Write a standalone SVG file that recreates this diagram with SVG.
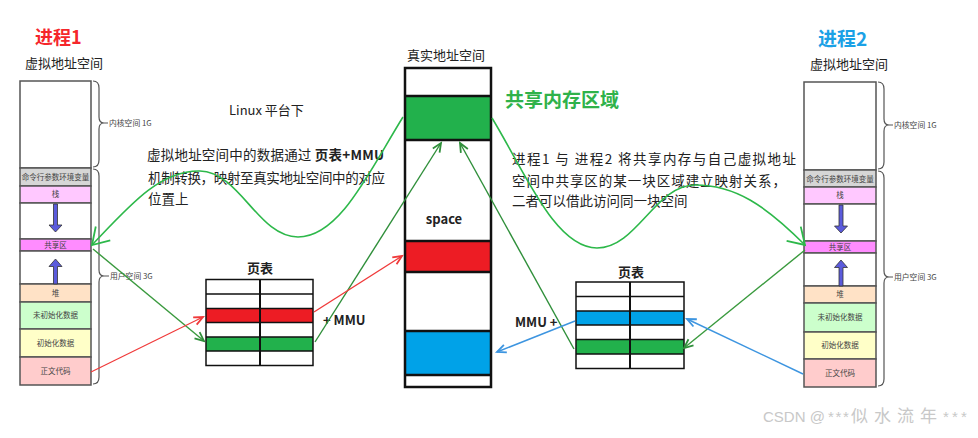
<svg xmlns="http://www.w3.org/2000/svg" width="978" height="438" viewBox="0 0 978 438">
<style>
text{font-family:"Noto Sans CJK SC","Noto Sans",sans-serif;}
.cell{stroke:#555;stroke-width:1.5;}
.lbl{font-size:7.5px;fill:#444;text-anchor:middle;}
.brace{fill:none;stroke:#555;stroke-width:1.2;}
.blbl{font-size:7.8px;fill:#444;}
.cap{font-size:13px;fill:#222;}
.para{font-size:13.5px;fill:#222;}
.bold{font-weight:bold;}
.pt{stroke:#111;stroke-width:1.5;}
.vline{stroke:#111;stroke-width:2;}
.mem{stroke:#111;stroke-width:2.5;}
.updown{fill:#5b5bdc;stroke:#333;stroke-width:0.8;}
.curve{fill:none;stroke:#2db84a;stroke-width:1.6;}
.wm{fill:#c8c8c8;font-family:"Liberation Sans","Noto Sans CJK SC",sans-serif;}
</style>
<defs>
<marker id="vcurve" markerUnits="userSpaceOnUse" markerWidth="40" markerHeight="40" refX="0" refY="0" viewBox="-20 -20 40 40" orient="auto" overflow="visible">
<path d="M-16,-10 L0,0 L-16,10" fill="none" stroke="#2db84a" stroke-width="1.8"/>
</marker>
<marker id="vgreen" markerUnits="userSpaceOnUse" markerWidth="20" markerHeight="20" refX="0" refY="0" viewBox="-10 -10 20 20" orient="auto" overflow="visible">
<path d="M-9,-4 L0,0 L-9,4" fill="none" stroke="#2f8f3a" stroke-width="1.8"/>
</marker>
<marker id="vred" markerUnits="userSpaceOnUse" markerWidth="20" markerHeight="20" refX="0" refY="0" viewBox="-10 -10 20 20" orient="auto" overflow="visible">
<path d="M-9,-4 L0,0 L-9,4" fill="none" stroke="#f03a3a" stroke-width="1.8"/>
</marker>
<marker id="vblue" markerUnits="userSpaceOnUse" markerWidth="20" markerHeight="20" refX="0" refY="0" viewBox="-10 -10 20 20" orient="auto" overflow="visible">
<path d="M-9,-4 L0,0 L-9,4" fill="none" stroke="#3d95e0" stroke-width="1.8"/>
</marker>
</defs>
<rect width="978" height="438" fill="#fff"/>

<g id="proc1">
<text x="35" y="44" font-size="18" class="bold" fill="#f5262b">进程1</text>
<text x="25" y="68" class="cap">虚拟地址空间</text>
<rect class="cell" x="20" y="81" width="71" height="87" fill="#fff"/>
<rect class="cell" x="20" y="168" width="71" height="18" fill="#d6d6d6"/>
<rect class="cell" x="20" y="186" width="71" height="17" fill="#ffc8ff"/>
<rect class="cell" x="20" y="203" width="71" height="36" fill="#fff"/>
<rect class="cell" x="20" y="239" width="71" height="12" fill="#ff8cff"/>
<rect class="cell" x="20" y="251" width="71" height="33" fill="#fff"/>
<rect class="cell" x="20" y="284" width="71" height="18" fill="#ffe2c6"/>
<rect class="cell" x="20" y="302" width="71" height="27" fill="#ccffcc"/>
<rect class="cell" x="20" y="329" width="71" height="28" fill="#ffffc8"/>
<rect class="cell" x="20" y="357" width="71" height="28" fill="#ffcccc"/>
<text class="lbl" x="55.5" y="180">命令行参数环境变量</text>
<text class="lbl" x="55.5" y="197">栈</text>
<text class="lbl" x="55.5" y="248">共享区</text>
<text class="lbl" x="55.5" y="296">堆</text>
<text class="lbl" x="55.5" y="318">未初始化数据</text>
<text class="lbl" x="55.5" y="346">初始化数据</text>
<text class="lbl" x="55.5" y="374">正文代码</text>
<path class="updown" d="M53.5,204 L57.5,204 L57.5,225 L62,225 L55.5,232 L49,225 L53.5,225 Z"/>
<path class="updown" d="M53.5,284 L57.5,284 L57.5,266.5 L62,266.5 L55.5,259 L49,266.5 L53.5,266.5 Z"/>
<path class="brace" d="M93,81 Q99,81 99,88 L99,117 Q99,123 104,123 Q99,123 99,129 L99,160 Q99,167 93,167 M104,123 L108,123"/>
<text class="blbl" x="109" y="126">内核空间 1G</text>
<path class="brace" d="M93,169 Q99,169 99,176 L99,270 Q99,276 104,276 Q99,276 99,282 L99,377 Q99,384 93,384 M104,276 L109,276"/>
<text class="blbl" x="110" y="279">用户空间 3G</text>
</g>

<g id="proc2">
<text x="818" y="46" font-size="19" class="bold" fill="#1ba1e6">进程2</text>
<text x="810" y="69" class="cap">虚拟地址空间</text>
<rect class="cell" x="804" y="82" width="72" height="88" fill="#fff"/>
<rect class="cell" x="804" y="170" width="72" height="17" fill="#d6d6d6"/>
<rect class="cell" x="804" y="187" width="72" height="17" fill="#ffc8ff"/>
<rect class="cell" x="804" y="204" width="72" height="37" fill="#fff"/>
<rect class="cell" x="804" y="241" width="72" height="12" fill="#ff8cff"/>
<rect class="cell" x="804" y="253" width="72" height="33" fill="#fff"/>
<rect class="cell" x="804" y="286" width="72" height="17" fill="#ffe2c6"/>
<rect class="cell" x="804" y="303" width="72" height="29" fill="#ccffcc"/>
<rect class="cell" x="804" y="332" width="72" height="27" fill="#ffffc8"/>
<rect class="cell" x="804" y="359" width="72" height="28" fill="#ffcccc"/>
<text class="lbl" x="840" y="182">命令行参数环境变量</text>
<text class="lbl" x="840" y="198">栈</text>
<text class="lbl" x="840" y="250">共享区</text>
<text class="lbl" x="840" y="297">堆</text>
<text class="lbl" x="840" y="320">未初始化数据</text>
<text class="lbl" x="840" y="348">初始化数据</text>
<text class="lbl" x="840" y="376">正文代码</text>
<path class="updown" d="M839,205 L843,205 L843,226 L847.5,226 L841,233 L834.5,226 L839,226 Z"/>
<path class="updown" d="M839,286 L843,286 L843,267.5 L847.5,267.5 L841,260 L834.5,267.5 L839,267.5 Z"/>
<path class="brace" d="M878,82 Q884,82 884,89 L884,119 Q884,125 889,125 Q884,125 884,131 L884,162 Q884,169 878,169 M889,125 L893,125"/>
<text class="blbl" x="894" y="128">内核空间 1G</text>
<path class="brace" d="M878,171 Q884,171 884,178 L884,271 Q884,277 889,277 Q884,277 884,283 L884,379 Q884,386 878,386 M889,277 L893,277"/>
<text class="blbl" x="894" y="280">用户空间 3G</text>
</g>

<g id="real-memory">
<text x="407" y="60" class="cap">真实地址空间</text>
<rect x="405" y="96" width="86" height="44" fill="#22b14c"/>
<rect x="405" y="241" width="86" height="31" fill="#ed1c24"/>
<rect x="405" y="331" width="86" height="44" fill="#00a2e8"/>
<rect class="mem" x="405" y="68" width="86" height="319" fill="none"/>
<path class="mem" d="M405,96 H491 M405,140 H491 M405,241 H491 M405,272 H491 M405,331 H491 M405,375 H491"/>
<text x="444" y="224" font-size="13" class="bold" fill="#222" text-anchor="middle">space</text>
<text x="505" y="107" font-size="19" class="bold" fill="#2fb24a">共享内存区域</text>
</g>

<g id="pagetable1">
<text x="260" y="273" font-size="13" class="bold" fill="#222" text-anchor="middle">页表</text>
<rect x="206" y="308.5" width="107" height="14" fill="#ed1c24"/>
<rect x="206" y="337" width="107" height="14" fill="#22b14c"/>
<rect class="pt" x="206" y="279.5" width="107" height="86" fill="none"/>
<path class="pt" d="M206,294 H313 M206,308.5 H313 M206,322.5 H313 M206,337 H313 M206,351 H313"/>
<path class="vline" d="M260,279.5 V365.5"/>
<text x="323" y="325" font-size="13" class="bold" fill="#222">+ MMU</text>
</g>

<g id="pagetable2">
<text x="631" y="277" font-size="13" class="bold" fill="#222" text-anchor="middle">页表</text>
<rect x="576" y="311" width="108" height="14" fill="#00a2e8"/>
<rect x="576" y="339.5" width="108" height="14.5" fill="#22b14c"/>
<rect class="pt" x="576" y="282" width="108" height="86.5" fill="none"/>
<path class="pt" d="M576,296.5 H684 M576,311 H684 M576,325 H684 M576,339.5 H684 M576,354 H684"/>
<path class="vline" d="M630,282 V368.5"/>
<text x="515" y="327" font-size="13" class="bold" fill="#222">MMU +</text>
</g>

<g id="notes">
<text x="229" y="115" class="cap">Linux 平台下</text>
<text x="147" y="160" class="para" textLength="237" lengthAdjust="spacing">虚拟地址空间中的数据通过 <tspan class="bold">页表+MMU</tspan></text>
<text x="148" y="183" class="para" textLength="237" lengthAdjust="spacing">机制转换，映射至真实地址空间中的对应</text>
<text x="148" y="204" class="para">位置上</text>
<text x="512" y="164" class="para" font-size="14.4" textLength="284" lengthAdjust="spacing">进程1 与 进程2 将共享内存与自己虚拟地址</text>
<text x="512" y="186" class="para" font-size="14.4" textLength="274" lengthAdjust="spacing">空间中共享区的某一块区域建立映射关系，</text>
<text x="512" y="206" class="para" font-size="14.4">二者可以借此访问同一块空间</text>
<text class="wm" x="763" y="422" font-size="15">CSDN @<tspan x="828">*</tspan><tspan x="835.5">*</tspan><tspan x="843">*</tspan><tspan x="851" font-size="17" font-family="'Noto Sans CJK SC',sans-serif" textLength="86" lengthAdjust="spacing">似水流年</tspan><tspan x="943">*</tspan><tspan x="952">*</tspan><tspan x="961">*</tspan></text>
</g>

<g id="connectors">
<path class="curve" d="M403,117 C370,170 340,237 298,237 C258,237 240,172 200,171 C160,170 130,205 92,245" marker-end="url(#vcurve)"/>
<path class="curve" d="M492,118 C525,172 555,248 597,248 C637,248 655,185 695,185 C735,185 765,205 805,245" marker-end="url(#vcurve)"/>
<line x1="93" y1="249" x2="204" y2="341" stroke="#3a9a3e" stroke-width="1.4" marker-end="url(#vgreen)"/>
<line x1="315" y1="342" x2="441" y2="143" stroke="#2f8f3a" stroke-width="1.4" marker-end="url(#vgreen)"/>
<line x1="574" y1="349" x2="460" y2="143" stroke="#2f8f3a" stroke-width="1.4" marker-end="url(#vgreen)"/>
<line x1="805" y1="250" x2="684" y2="348" stroke="#3a9a3e" stroke-width="1.4" marker-end="url(#vgreen)"/>
<line x1="91" y1="372" x2="203" y2="317" stroke="#f03a3a" stroke-width="1.2" marker-end="url(#vred)"/>
<line x1="314" y1="312" x2="402" y2="256" stroke="#f03a3a" stroke-width="1.4" marker-end="url(#vred)"/>
<line x1="575" y1="321" x2="497" y2="352" stroke="#3d95e0" stroke-width="1.4" marker-end="url(#vblue)"/>
<line x1="803" y1="374" x2="687" y2="319" stroke="#3d95e0" stroke-width="1.4" marker-end="url(#vblue)"/>
</g>
</svg>
